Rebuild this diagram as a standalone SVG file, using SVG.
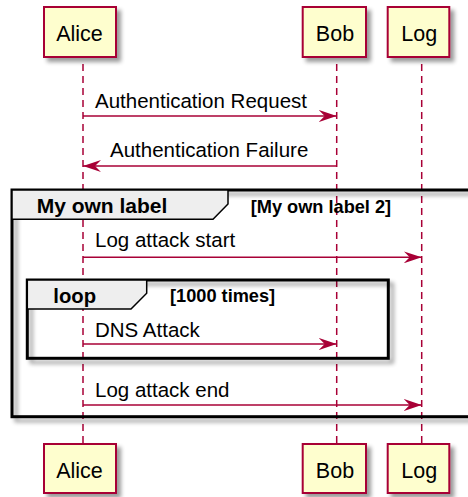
<svg xmlns="http://www.w3.org/2000/svg" width="468" height="497" viewBox="0 0 468 497">
<defs>
<filter id="sh" x="-20%" y="-20%" width="150%" height="150%">
<feGaussianBlur in="SourceAlpha" stdDeviation="2"/>
<feOffset dx="4" dy="4" result="b"/>
<feComponentTransfer><feFuncA type="linear" slope="0.4"/></feComponentTransfer>
<feMerge><feMergeNode/><feMergeNode in="SourceGraphic"/></feMerge>
</filter>
<marker id="ah" viewBox="0 0 18 12" refX="18" refY="6" markerWidth="18" markerHeight="12" markerUnits="userSpaceOnUse" orient="auto">
<path d="M0,0 L18,6 L0,12 L6,6 Z" fill="#A80036"/>
</marker>
<style>
.box{fill:#FEFECE;stroke:#A80036;stroke-width:2}
.pt{font-family:"Liberation Sans",Arial,sans-serif;font-size:21.5px;fill:#000;text-anchor:middle}
.life{stroke:#A80036;stroke-width:1.5;stroke-dasharray:7,5;fill:none}
.msg{stroke:#A80036;stroke-width:1.5;fill:none;marker-end:url(#ah)}
.mt{font-family:"Liberation Sans",Arial,sans-serif;font-size:20.5px;fill:#000}
.frame{fill:none;stroke:#000;stroke-width:3}
.tab{fill:#EEEEEE;stroke:#000;stroke-width:1.5}
.gt{font-family:"Liberation Sans",Arial,sans-serif;font-weight:bold;font-size:21px;fill:#000}
.gs{font-family:"Liberation Sans",Arial,sans-serif;font-weight:bold;font-size:18.2px;fill:#000}
</style>
</defs>
<g id="lifelines">
<line class="life" x1="83" y1="64" x2="83" y2="444"/>
<line class="life" x1="336.7" y1="64" x2="336.7" y2="444"/>
<line class="life" x1="421.7" y1="64" x2="421.7" y2="444"/>
</g>
<g id="group-frame">
<rect x="12" y="190" width="470" height="226.7" fill="none" stroke="#000" stroke-width="3" filter="url(#sh)"/>
<path class="tab" d="M12,190 L228,190 L228,204 L213,219.3 L12,219.3 Z"/>
<text class="gt" x="36.7" y="213">My own label</text>
<text class="gs" x="250.7" y="213">[My own label 2]</text>
</g>
<g id="loop-frame">
<rect x="27.3" y="280" width="361" height="78.3" fill="none" stroke="#000" stroke-width="3" filter="url(#sh)"/>
<path class="tab" d="M27.3,280 L146.7,280 L146.7,293.3 L131,309 L27.3,309 Z"/>
<text class="gt" x="53.3" y="303" style="font-size:20.3px">loop</text>
<text class="gs" x="170" y="301.7">[1000 times]</text>
</g>
<g id="connectors">
<line class="msg" x1="83" y1="116" x2="336.7" y2="116"/>
<text class="mt" x="95" y="108">Authentication Request</text>
<line class="msg" x1="336.7" y1="166" x2="83" y2="166"/>
<text class="mt" x="110" y="157">Authentication Failure</text>
<line class="msg" x1="83" y1="257.3" x2="421.7" y2="257.3"/>
<text class="mt" x="95" y="246.7">Log attack start</text>
<line class="msg" x1="83" y1="344" x2="336.7" y2="344"/>
<text class="mt" x="95" y="336.7">DNS Attack</text>
<line class="msg" x1="83" y1="405" x2="421.7" y2="405"/>
<text class="mt" x="95" y="396.7">Log attack end</text>
</g>
<g id="alice-top"><rect class="box" x="44" y="7" width="72" height="50" filter="url(#sh)"/><text class="pt" x="79.5" y="40.5">Alice</text></g>
<g id="bob-top"><rect class="box" x="302.7" y="7" width="63.3" height="50" filter="url(#sh)"/><text class="pt" x="335" y="40.5">Bob</text></g>
<g id="log-top"><rect class="box" x="387.7" y="7" width="61.6" height="50" filter="url(#sh)"/><text class="pt" x="419.3" y="40.5">Log</text></g>
<g id="alice-bottom"><rect class="box" x="44" y="444" width="72" height="49" filter="url(#sh)"/><text class="pt" x="79.5" y="478">Alice</text></g>
<g id="bob-bottom"><rect class="box" x="302.7" y="444" width="63.3" height="49" filter="url(#sh)"/><text class="pt" x="335" y="478">Bob</text></g>
<g id="log-bottom"><rect class="box" x="387.7" y="444" width="61.6" height="49" filter="url(#sh)"/><text class="pt" x="419.3" y="478">Log</text></g>
</svg>
